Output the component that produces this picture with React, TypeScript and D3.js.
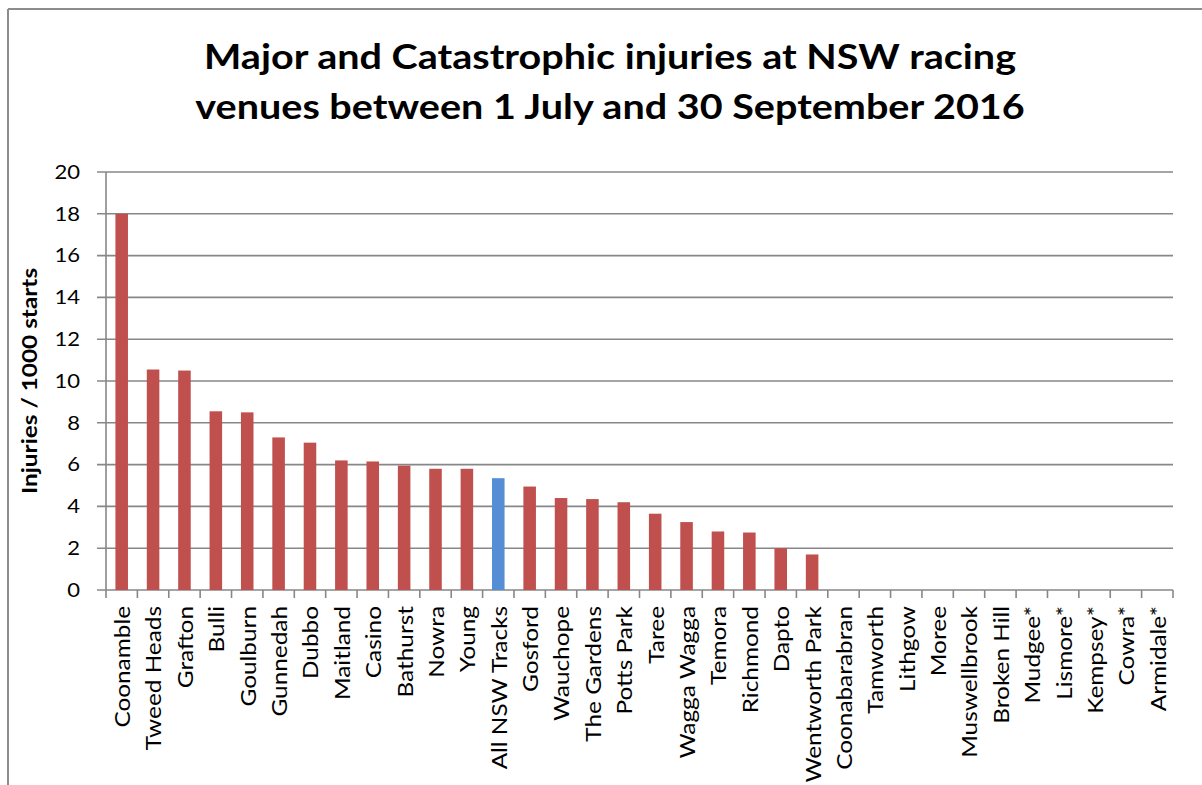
import React from "react";
import * as d3 from "d3";

// venues in chart order
const venues = [
  "Coonamble", "Tweed Heads", "Grafton", "Bulli", "Goulburn", "Gunnedah", "Dubbo",
  "Maitland", "Casino", "Bathurst", "Nowra", "Young", "All NSW Tracks", "Gosford",
  "Wauchope", "The Gardens", "Potts Park", "Taree", "Wagga Wagga", "Temora",
  "Richmond", "Dapto", "Wentworth Park", "Coonabarabran", "Tamworth", "Lithgow",
  "Moree", "Muswellbrook", "Broken Hill", "Mudgee*", "Lismore*", "Kempsey*",
  "Cowra*", "Armidale*",
];

const injuryRates = [
  18.0, 10.55, 10.5, 8.55, 8.5, 7.3, 7.05, 6.2, 6.15, 5.95, 5.8, 5.8, 5.35, 4.95,
  4.4, 4.35, 4.2, 3.65, 3.25, 2.8, 2.75, 2.0, 1.7, 0, 0, 0, 0, 0, 0, 0, 0, 0, 0, 0,
];

const yTicks = [0, 2, 4, 6, 8, 10, 12, 14, 16, 18, 20];

const titleLines = [
  "Major and Catastrophic injuries at NSW racing",
  "venues between 1 July and 30 September 2016",
];

const WIDTH = 1202;
const HEIGHT = 785;
const FONT = "Lato, 'Open Sans', sans-serif";
const GRID = "#878787";
// the original face is wider than Lato, so text is stretched along its run
const STRETCH = 1.16;

export default function App() {
  const margin = { left: 106, right: 29, top: 172, bottom: 195 };

  const x = d3.scaleBand<string>()
    .domain(venues)
    .range([margin.left, WIDTH - margin.right])
    .paddingInner(0.6)
    .paddingOuter(0.3);

  const y = d3.scaleLinear()
    .domain([0, 20])
    .range([HEIGHT - margin.bottom, margin.top]);

  const step = x.step();
  const x0 = margin.left;
  const x1 = WIDTH - margin.right;
  const y0 = y(0);

  return (
    <svg
      width={WIDTH}
      height={HEIGHT}
      style={{ position: "fixed", left: 0, top: 0, background: "#fff" }}
    >
      {/* frame */}
      <line x1={8} x2={WIDTH} y1={9} y2={9} stroke="#8c8c8c" strokeWidth={2} />
      <line x1={8} x2={8} y1={9} y2={HEIGHT} stroke="#8c8c8c" strokeWidth={2} />

      {/* title */}
      {titleLines.map((t, i) => (
        <text
          key={t}
          transform={`translate(610,${69 + i * 50}) scale(1.13,1)`}
          textAnchor="middle"
          fontFamily={FONT}
          fontWeight="bold"
          fontSize={35}
          fill="#000"
        >
          {t}
        </text>
      ))}

      {/* gridlines + y ticks */}
      {yTicks.map((v) => (
        <g key={v}>
          <line x1={x0 - 9} x2={x1} y1={y(v)} y2={y(v)} stroke={GRID} strokeWidth={1.6} />
          <text
            transform={`translate(80,${y(v)}) scale(${STRETCH},1)`}
            dy="0.36em"
            textAnchor="end"
            fontFamily={FONT}
            fontSize={19}
            fill="#000"
          >
            {v}
          </text>
        </g>
      ))}

      {/* y axis line */}
      <line x1={x0} x2={x0} y1={y(20)} y2={y0} stroke={GRID} strokeWidth={1.6} />

      {/* bars */}
      {venues.map((v, i) => (
        <rect
          key={v}
          x={x(v)}
          y={y(injuryRates[i])}
          width={x.bandwidth()}
          height={y0 - y(injuryRates[i])}
          fill={v === "All NSW Tracks" ? "#558ED5" : "#C0504D"}
        />
      ))}

      {/* x axis ticks */}
      {d3.range(venues.length + 1).map((i) => (
        <line
          key={i}
          x1={x0 + i * step}
          x2={x0 + i * step}
          y1={y0}
          y2={y0 + 8}
          stroke={GRID}
          strokeWidth={1.6}
        />
      ))}

      {/* category labels */}
      {venues.map((v) => {
        const cx = (x(v) ?? 0) + x.bandwidth() / 2;
        return (
          <text
            key={v}
            transform={`translate(${cx},${y0 + 16}) rotate(-90) scale(${STRETCH},1)`}
            dy="0.4em"
            textAnchor="end"
            fontFamily={FONT}
            fontSize={21}
            fill="#000"
          >
            {v}
          </text>
        );
      })}

      {/* y axis title */}
      <text
        transform={`translate(30,${(y(20) + y0) / 2}) rotate(-90) scale(${STRETCH},1)`}
        dy="0.35em"
        textAnchor="middle"
        fontFamily={FONT}
        fontWeight="bold"
        fontSize={21}
        fill="#000"
      >
        Injuries / 1000 starts
      </text>
    </svg>
  );
}
